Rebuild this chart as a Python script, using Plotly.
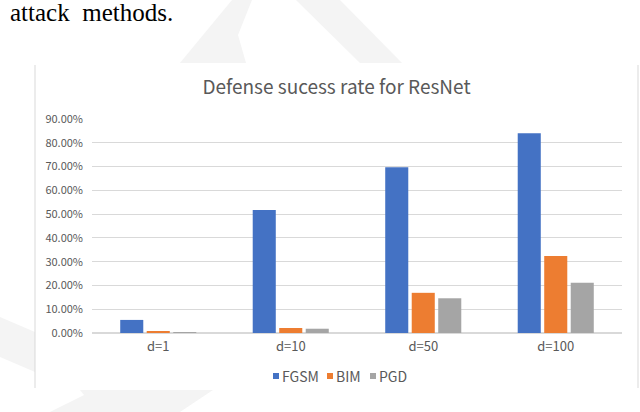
import plotly.graph_objects as go

categories = ["d=1", "d=10", "d=50", "d=100"]
fgsm = [0.055, 0.517, 0.697, 0.840]
bim = [0.005, 0.021, 0.169, 0.324]
pgd = [0.004, 0.018, 0.146, 0.211]
series_names = ["FGSM", "BIM", "PGD"]
series_colors = ["#4472C4", "#ED7D31", "#A5A5A5"]
y_ticks = [0.0, 0.1, 0.2, 0.3, 0.4, 0.5, 0.6, 0.7, 0.8, 0.9]

W, H = 640, 412


def px(x, y):
    return x / W, 1 - y / H


def path(points):
    pts = [px(x, y) for x, y in points]
    return "M " + " L ".join(f"{a:.4f},{b:.4f}" for a, b in pts) + " Z"


fig = go.Figure()
for name, vals, col in zip(series_names, [fgsm, bim, pgd], series_colors):
    fig.add_trace(go.Bar(x=categories, y=vals, name=name, marker_color=col,
                         marker_line_width=0, showlegend=False))

wm = "#f4f4f4"
shapes = [
    dict(type="path", xref="paper", yref="paper", layer="below", line_width=0,
         fillcolor=wm, path=path([(180, 63), (232, 0), (252, 0), (238, 35), (246, 63)])),
    dict(type="path", xref="paper", yref="paper", layer="below", line_width=0,
         fillcolor=wm, path=path([(296, 0), (340, 0), (402, 63), (360, 63)])),
    dict(type="path", xref="paper", yref="paper", layer="below", line_width=0,
         fillcolor=wm, path=path([(0, 317), (35, 332), (35, 372), (0, 357)])),
    dict(type="path", xref="paper", yref="paper", layer="below", line_width=0,
         fillcolor=wm, path=path([(50, 412), (84, 395), (80, 390), (213, 390), (180, 412)])),
    dict(type="rect", xref="paper", yref="paper", layer="below", line_width=0,
         fillcolor="white", x0=35 / W, x1=638 / W, y0=1 - 388 / H, y1=1 - 65 / H),
    dict(type="line", xref="paper", yref="paper", line=dict(color="#d9d9d9", width=1),
         x0=35 / W, x1=35 / W, y0=1 - 388 / H, y1=1 - 65 / H),
    dict(type="line", xref="paper", yref="paper", line=dict(color="#d9d9d9", width=1),
         x0=638 / W, x1=638 / W, y0=1 - 388 / H, y1=1 - 65 / H),
]

# legend: small colour squares followed by the series names
legend_x = [276, 330, 373]
legend_y = 376
annotations = [dict(text="attack\u2002methods.", x=8 / W, y=1 + 3 / H, xref="paper", yref="paper",
                    xanchor="left", yanchor="top", showarrow=False,
                    font=dict(family="Liberation Serif", size=25, color="black"))]
for name, col, lx in zip(series_names, series_colors, legend_x):
    shapes.append(dict(type="rect", xref="paper", yref="paper", line_width=0, fillcolor=col,
                       x0=(lx - 3) / W, x1=(lx + 3) / W,
                       y0=1 - (legend_y + 3) / H, y1=1 - (legend_y - 3) / H))
    annotations.append(dict(text=name, x=(lx + 4) / W, y=1 - legend_y / H, xref="paper",
                            yref="paper", xanchor="left", yanchor="middle", showarrow=False,
                            font=dict(size=14, color="#595959")))

fig.update_layout(
    width=W, height=H,
    margin=dict(l=0, r=0, t=0, b=0, pad=0),
    paper_bgcolor="white", plot_bgcolor="rgba(0,0,0,0)",
    font=dict(family="Noto Sans CJK SC, Noto Sans, sans-serif", color="#595959", size=11),
    barmode="group", bargap=0.4, bargroupgap=0.13,
    showlegend=False,
    title=dict(text="Defense sucess rate for ResNet", x=336.5 / W, y=1 - 87 / H,
               xanchor="center", yanchor="middle", xref="paper", yref="paper",
               font=dict(size=19, color="#595959")),
    xaxis=dict(domain=[92 / W, 622 / W], showgrid=False, showline=False, zeroline=False,
               automargin=False,
               ticks="", tickfont=dict(size=13, color="#595959"), ticklabelstandoff=4),
    yaxis=dict(domain=[1 - 333 / H, 1 - 119 / H], range=[0, 0.9], tickvals=y_ticks,
               automargin=False,
               tickformat=".2%", showgrid=True, gridcolor="#d9d9d9", gridwidth=1,
               zeroline=True, zerolinecolor="#d9d9d9", zerolinewidth=1.5,
               showline=False, ticks="", tickfont=dict(size=11, color="#595959"),
               ticklabelstandoff=8),
    shapes=shapes,
    annotations=annotations,
)

post = "document.documentElement.style.margin='0';document.body.style.margin='0';"
fig.write_html("out.html", config={"displayModeBar": False}, post_script=post)
